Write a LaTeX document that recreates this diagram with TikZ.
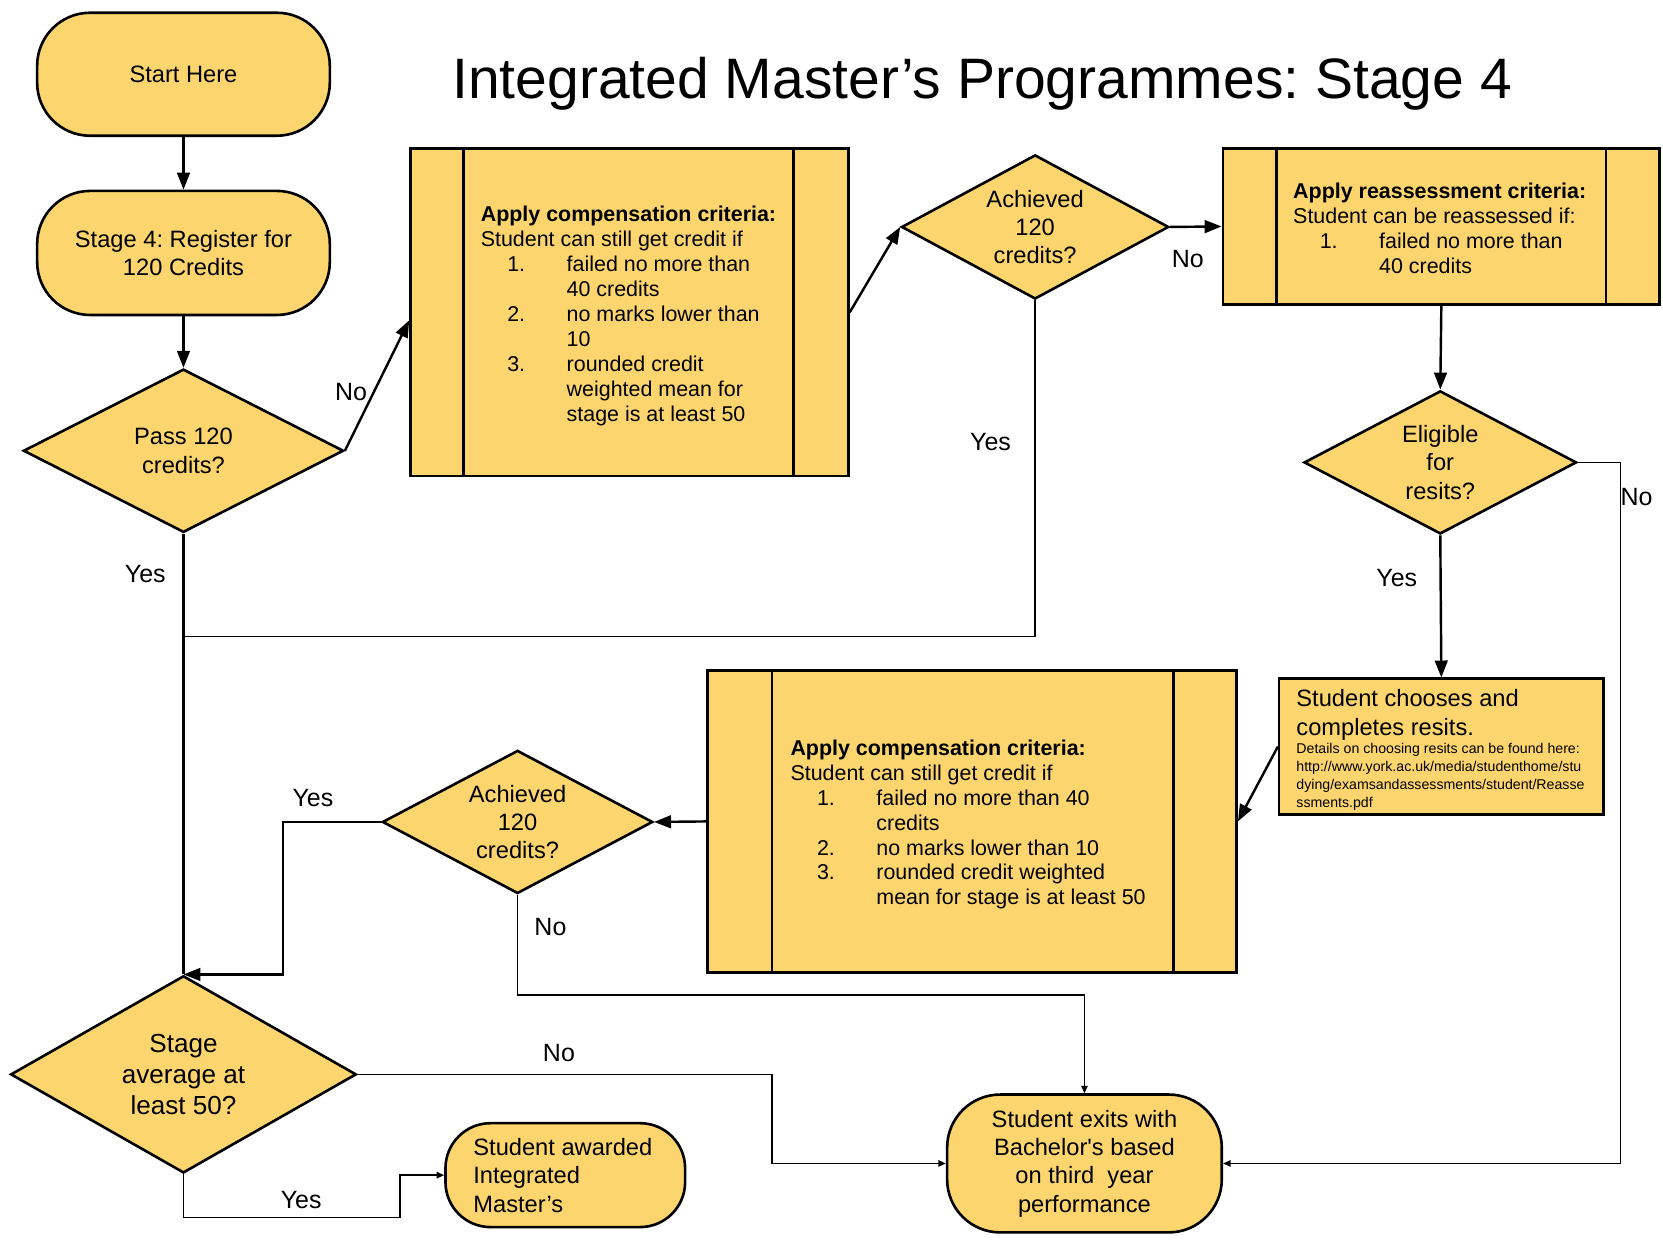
\documentclass[tikz,border=0pt]{standalone}
\usepackage{fontspec}
\setmainfont{Liberation Sans}
\usetikzlibrary{shapes.geometric,arrows.meta,calc}
\definecolor{boxfill}{RGB}{252,213,110}
\newcommand\bodyfont{\fontsize{12.7}{15.2}\selectfont}
\newcommand\compfont{\fontsize{11.5}{13.4}\selectfont}
\newcommand\lblfont{\fontsize{13.4}{16}\selectfont}
\newcommand\stagefont{\fontsize{14}{16.8}\selectfont}
\newcommand\smalldetailfont{\fontsize{7.6}{9.7}\selectfont}
\newcommand\ttlfont{\fontsize{30.6}{36}\selectfont}
\newcommand\numitem[1]{\hspace*{0.5cm}\makebox[1.12cm][l]{#1}}
\newcommand\contline{\hspace*{1.62cm}}
\frenchspacing
\begin{document}
\begin{tikzpicture}[x=0.02cm,y=-0.02cm,
  box/.style={draw, line width=1.4pt, fill=boxfill, inner sep=0pt, font=\bodyfont, align=center},
  term/.style={box, rounded corners=1.0cm},
  dia/.style={box, diamond},
  conn/.style={line width=1.3pt, -{Triangle[length=0.32cm,width=0.24cm]}},
  thinconn/.style={line width=0.75pt, -{Triangle[length=0.14cm,width=0.12cm]}},
  plainline/.style={line width=0.75pt},
  thickline/.style={line width=1.3pt},
  lbl/.style={font=\lblfont, inner sep=0pt},
  blocktext/.style={anchor=north west, align=left, inner sep=0pt},
  diatext/.style={font=\bodyfont, align=center, inner sep=0pt}
]
\useasboundingbox[fill=white] (0,0) rectangle (1568,1169);

% title
\node[font=\ttlfont, inner sep=0pt] (title) at (926,79) {Integrated Master’s Programmes: Stage 4};

% terminators
\node[term, minimum width=5.52cm, minimum height=2.32cm] (start) at (173,70) {Start Here};
\node[term, minimum width=5.52cm, minimum height=2.34cm] (reg) at (173,238.5) {Stage 4: Register for\\120 Credits};
\node[term, rounded corners=0.85cm, minimum width=4.52cm, minimum height=1.96cm] (aw) at (533,1108) {};
\node[blocktext, font=\bodyfont] (awtext) at (446,1073) {Student awarded\\Integrated\\Master’s};
\node[term, minimum width=5.18cm, minimum height=2.6cm] (bach) at (1022.5,1097) {Student exits with\\Bachelor\textquotesingle s based\\on third\ \ year\\performance};

% diamonds
\node[dia, minimum width=6.04cm, minimum height=3.08cm, label={[diatext]center:Pass 120\\credits?}] (pass) at (173,425) {};
\node[dia, minimum width=5.04cm, minimum height=2.72cm, label={[diatext]center:Achieved\\120\\credits?}] (ach1) at (976,214) {};
\node[dia, minimum width=5.14cm, minimum height=2.7cm, label={[diatext]center:Eligible\\for\\resits?}] (elig) at (1358,436) {};
\node[dia, minimum width=5.1cm, minimum height=2.7cm, label={[diatext]center:Achieved\\120\\credits?}] (ach2) at (488,775) {};
\node[dia, minimum width=6.52cm, minimum height=3.72cm, label={[diatext, font=\stagefont]center:Stage\\average at\\least 50?}] (stage) at (173,1013) {};

% process boxes
\node[box, minimum width=8.26cm, minimum height=6.18cm] (c1) at (593.5,294.5) {};
\draw[line width=1.4pt] ($(c1.north west)+(51,0)$) -- ($(c1.south west)+(51,0)$);
\draw[line width=1.4pt] ($(c1.north east)+(-53,0)$) -- ($(c1.south east)+(-53,0)$);
\node[blocktext, font=\compfont] (c1text) at (453,194) {\textbf{Apply compensation criteria:}\\
Student can still get credit if\\
\numitem{1.}failed no more than\\
\contline 40 credits\\
\numitem{2.}no marks lower than\\
\contline 10\\
\numitem{3.}rounded credit\\
\contline weighted mean for\\
\contline stage is at least 50};

\node[box, minimum width=8.24cm, minimum height=2.94cm] (ra) at (1359,213.5) {};
\draw[line width=1.4pt] ($(ra.north west)+(52,0)$) -- ($(ra.south west)+(52,0)$);
\draw[line width=1.4pt] ($(ra.north east)+(-52,0)$) -- ($(ra.south east)+(-52,0)$);
\node[blocktext, font=\compfont] (ratext) at (1219,172) {\textbf{Apply reassessment criteria:}\\
Student can be reassessed if:\\
\numitem{1.}failed no more than\\
\contline 40 credits};

\node[box, minimum width=9.98cm, minimum height=5.7cm] (c2) at (916.5,774.5) {};
\draw[line width=1.4pt] ($(c2.north west)+(62,0)$) -- ($(c2.south west)+(62,0)$);
\draw[line width=1.4pt] ($(c2.north east)+(-61,0)$) -- ($(c2.south east)+(-61,0)$);
\node[blocktext, font=\compfont] (c2text) at (745,697) {\textbf{Apply compensation criteria:}\\
Student can still get credit if\\
\numitem{1.}failed no more than 40\\
\contline credits\\
\numitem{2.}no marks lower than 10\\
\numitem{3.}rounded credit weighted\\
\contline mean for stage is at least 50};

% resits box
\node[box, minimum width=6.12cm, minimum height=2.56cm] (rs) at (1359,704) {};
\node[blocktext, font=\bodyfont] (rstext) at (1222,650) {Student chooses and\\completes resits.};
\node[blocktext, font=\smalldetailfont] (rsdetail) at (1222,700) {Details on choosing resits can be found here:\\
http://www.york.ac.uk/media/studenthome/stu\\
dying/examsandassessments/student/Reasse\\
ssments.pdf};

% junction coordinates
\coordinate (j1) at (173,600);
\coordinate (e1) at (1528,436);
\coordinate (a2y) at (267,775);
\coordinate (a2n) at (488,938);
\coordinate (sn) at (728,1013);
\coordinate (sy1) at (173,1148);
\coordinate (sy2) at (377,1148);

% connectors
\draw[conn] (start) -- (reg);
\draw[conn] (reg) -- (pass);
\draw[conn] (pass.east) -- ([yshift=-0.15cm]c1.west);
\draw[conn] (c1.east) -- (ach1.west);
\draw[conn] (ach1.east) -- (ra.west);
\draw[conn] (ra.south) -- (elig.north);
\draw[conn] (elig.south) -- (rs.north);
\draw[conn] (rs.west) -- (c2.east);
\draw[conn] (c2.west) -- (ach2.east);
\draw[conn] (ach2.west) -- (a2y) |- (stage.north);
\draw[thickline] (pass.south) -- (stage.north);
\draw[plainline] (ach1.south) |- (j1);
\draw[thinconn] (elig.east) -- (e1) |- (bach.east);
\draw[thinconn] (ach2.south) -- (a2n) -| (bach.north);
\draw[thinconn] (stage.east) -- (sn) |- (bach.west);
\draw[thinconn] (stage.south) -- (sy1) -- (sy2) |- (aw.west);

% labels
\node[lbl] (l1) at (331,370) {No};
\node[lbl] (l2) at (137,541) {Yes};
\node[lbl] (l3) at (934,417) {Yes};
\node[lbl] (l4) at (1120,244) {No};
\node[lbl] (l5) at (1543,469) {No};
\node[lbl] (l6) at (1317,545) {Yes};
\node[lbl] (l7) at (295,752) {Yes};
\node[lbl] (l8) at (519,874) {No};
\node[lbl] (l9) at (527,993) {No};
\node[lbl] (l10) at (284,1131) {Yes};
\end{tikzpicture}
\end{document}
